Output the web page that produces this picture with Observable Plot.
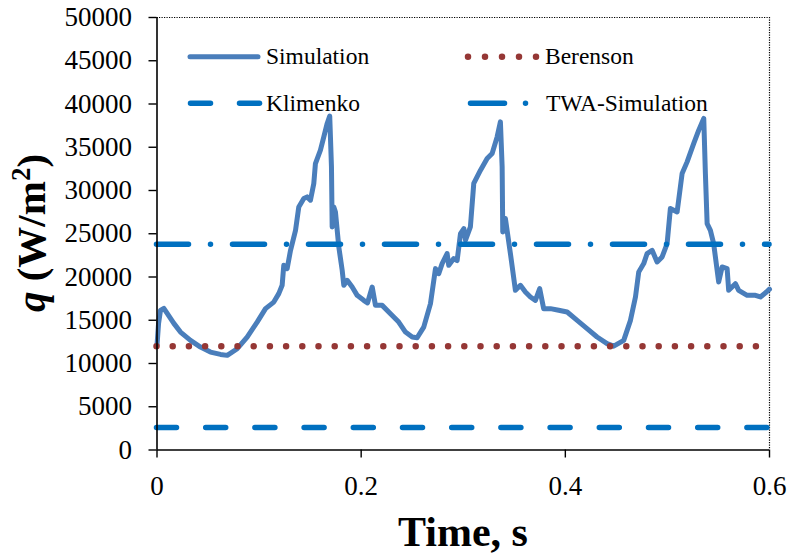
<!DOCTYPE html>
<html>
<head>
<meta charset="utf-8">
<script src="https://cdn.jsdelivr.net/npm/d3@7"></script>
<script src="https://cdn.jsdelivr.net/npm/@observablehq/plot@0.6"></script>
<style>
  html, body { margin: 0; padding: 0; background: #fff; }
  #chart { width: 794px; height: 556px; }
</style>
</head>
<body>
<div id="chart"></div>
<script>
// ---- data ----
const time = [
  0.000, 0.0015, 0.0034, 0.0067, 0.0100, 0.0165, 0.0230, 0.0328, 0.0426, 0.0524,
  0.0622, 0.0688, 0.0786, 0.0883, 0.0981, 0.1063, 0.1144, 0.1193, 0.1226, 0.1242,
  0.1275, 0.1308, 0.1357, 0.1389, 0.1438, 0.1471, 0.1503, 0.1536, 0.1552, 0.1601,
  0.1634, 0.1667, 0.1692, 0.1709, 0.1716, 0.1732, 0.1748, 0.1781, 0.1814, 0.1830,
  0.1863, 0.1912, 0.1961, 0.2025, 0.2062, 0.2108, 0.2140, 0.2206, 0.2287, 0.2368,
  0.2434, 0.2500, 0.2548, 0.2613, 0.2679, 0.2728, 0.2760, 0.2793, 0.2842, 0.2858,
  0.2907, 0.2940, 0.2973, 0.3006, 0.3022, 0.3070, 0.3103, 0.3169, 0.3234, 0.3283,
  0.3332, 0.3364, 0.3381, 0.3387, 0.3413, 0.3462, 0.3511, 0.3560, 0.3609, 0.3658,
  0.3707, 0.3749, 0.3788, 0.3854, 0.3935, 0.4018, 0.4116, 0.4213, 0.4311, 0.4409,
  0.4474, 0.4572, 0.4638, 0.4687, 0.4719, 0.4768, 0.4801, 0.4850, 0.4899, 0.4948,
  0.4997, 0.5029, 0.5095, 0.5144, 0.5193, 0.5258, 0.5307, 0.5356, 0.5372, 0.5389,
  0.5421, 0.5453, 0.5502, 0.5536, 0.5585, 0.5600, 0.5666, 0.5698, 0.5781, 0.5862,
  0.5911, 0.5970, 0.6000
];
const simulation = [
  12100, 14600, 16150, 16380, 15800, 14640, 13630, 12670, 11900, 11320,
  11050, 10940, 11710, 13060, 14790, 16340, 17100, 18080, 19040, 21350,
  20970, 23090, 25400, 28100, 29070, 29260, 28880, 30810, 33120, 34660,
  36200, 37750, 38600, 32730, 25790, 28100, 27520, 23470, 20780, 19040,
  19620, 18840, 17880, 17300, 17000, 18840, 16720, 16720, 15760, 14790,
  13630, 13060, 12980, 14210, 16920, 20970, 20390, 21550, 22710, 21350,
  22130, 21900, 25020, 25600, 24250, 25790, 30810, 32350, 33700, 34280,
  36200, 37940, 32730, 25210, 26760, 22710, 18460, 19040, 18260, 17690,
  17300, 18650, 16340, 16340, 16150, 15950, 14990, 14030, 13060, 12290,
  12000, 12670, 14990, 17690, 20580, 21550, 22710, 23090, 21740, 22320,
  23860, 27910, 27520, 31970, 33310, 35440, 36980, 38330, 31970, 26180,
  25400, 23860, 19420, 21160, 20970, 18460, 19230, 18460, 17880, 17880,
  17690, 18260, 18600
];
const berenson = 12000;
const klimenko = 2600;
const twaSimulation = 23800;
const seriesNames = ["Simulation", "Berenson", "Klimenko", "TWA-Simulation"];
const xTicks = [0, 0.2, 0.4, 0.6];
const yTicks = [0, 5000, 10000, 15000, 20000, 25000, 30000, 35000, 40000, 45000, 50000];

// ---- styling ----
const colSim = "#4A7EBB";
const colBer = "#953735";
const colBlue = "#0070C0";
const FONT = "Liberation Serif";

const simData = time.map((t, i) => ({t, q: simulation[i]}));

const svg = Plot.plot({
  width: 794,
  height: 556,
  marginLeft: 156.5,
  marginRight: 25,
  marginTop: 17,
  marginBottom: 106.5,
  style: {color: "#000", background: "#fff", overflow: "visible"},
  x: {domain: [0, 0.6]},
  y: {domain: [0, 50000]},
  marks: [
    Plot.ruleY([50000], {stroke: "#000", strokeWidth: 1.2, strokeDasharray: "1.2,1.3"}),
    Plot.ruleX([0.6], {stroke: "#000", strokeWidth: 1.2, strokeDasharray: "1.2,1.3"}),
    Plot.line(simData, {x: "t", y: "q", stroke: colSim, strokeWidth: 5, strokeLinejoin: "round", strokeLinecap: "round"}),
    Plot.ruleY([berenson], {stroke: colBer, strokeWidth: 6.5, strokeDasharray: "0,16.2", strokeLinecap: "round"}),
    Plot.ruleY([klimenko], {stroke: colBlue, strokeWidth: 5.5, strokeDasharray: "20,29.2", strokeLinecap: "round"}),
    Plot.ruleY([twaSimulation], {stroke: colBlue, strokeWidth: 5.5, strokeDasharray: "32,22,0,22", strokeLinecap: "round"}),
    Plot.ruleX([0], {stroke: "#000", strokeWidth: 1.6}),
    Plot.ruleY([0], {stroke: "#000", strokeWidth: 1.6}),
    Plot.axisY({ticks: yTicks, tickFormat: d3.format("d"), tickSize: 8, tickPadding: 17, fontSize: 27, label: null, strokeWidth: 1.4}),
    Plot.axisX({ticks: xTicks, tickFormat: d => d === 0 ? "0" : d3.format(".1f")(d), tickSize: 8, tickPadding: 18, fontSize: 27, label: null, strokeWidth: 1.4})
  ]
});

const s = d3.select(svg);

// axis titles
s.append("text")
  .attr("x", 463).attr("y", 546)
  .attr("text-anchor", "middle")
  .attr("font-weight", "bold").attr("font-size", 42)
  .attr("fill", "#000")
  .text("Time, s");

const yt = s.append("text")
  .attr("transform", "translate(45,233) rotate(-90)")
  .attr("text-anchor", "middle")
  .attr("font-weight", "bold").attr("font-size", 41)
  .attr("fill", "#000");
yt.append("tspan").attr("font-style", "italic").text("q");
yt.append("tspan").text(" (W/m");
yt.append("tspan").attr("dy", -15).attr("font-size", 27).text("2");
yt.append("tspan").attr("dy", 15).text(")");

// legend
const lg = s.append("g").attr("font-size", 23.5).attr("fill", "#000").attr("text-anchor", "start");
function legendItem(x1, x2, y, style, tx, label) {
  const l = lg.append("line").attr("x1", x1).attr("x2", x2).attr("y1", y).attr("y2", y)
    .attr("stroke", style.stroke).attr("stroke-width", style.width).attr("stroke-linecap", "round");
  if (style.dash) l.attr("stroke-dasharray", style.dash);
  lg.append("text").attr("x", tx).attr("y", y).attr("dy", "0.32em").attr("text-anchor", "start").text(label);
}
legendItem(190, 258, 56.7, {stroke: colSim, width: 5}, 266, seriesNames[0]);
legendItem(468, 536.5, 56.7, {stroke: colBer, width: 6.5, dash: "0,17"}, 545, seriesNames[1]);
legendItem(190.5, 259.5, 103.3, {stroke: colBlue, width: 5.5, dash: "20,29"}, 266, seriesNames[2]);
legendItem(470.5, 526, 103.3, {stroke: colBlue, width: 5.5, dash: "34,21,0,60"}, 546, seriesNames[3]);

// serif font on every text element
s.selectAll("text").attr("font-family", FONT);

document.getElementById("chart").appendChild(svg);
</script>
</body>
</html>
